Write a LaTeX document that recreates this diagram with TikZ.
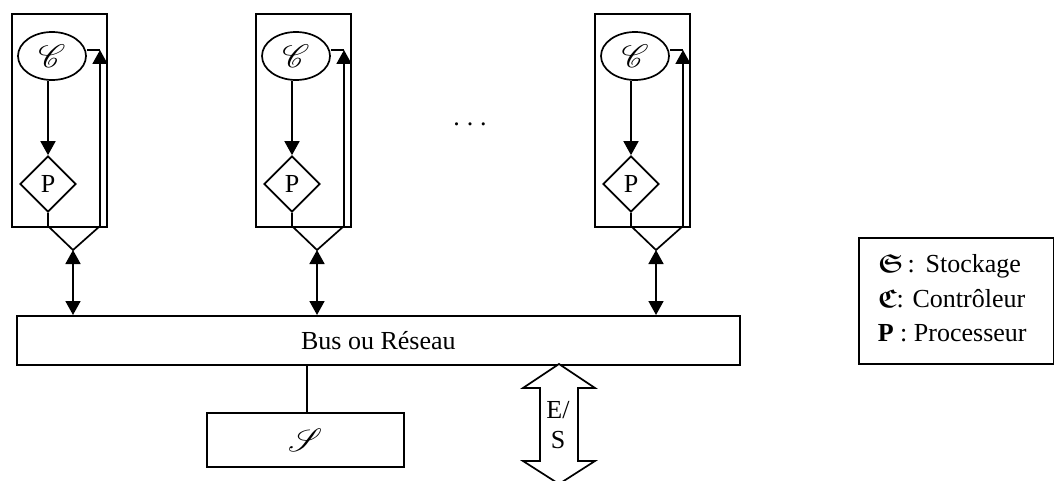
\documentclass[tikz,border=0pt]{standalone}
\usepackage{amsmath}
\usepackage{amssymb}
\usepackage{mathrsfs}
\usepackage{fontspec}
\setmainfont{Liberation Serif}
\usetikzlibrary{arrows.meta,shapes.geometric,calc}
\newcommand{\scrsym}[1]{\scalebox{1.3}{$\mathscr{#1}$}}
\begin{document}
\begin{tikzpicture}[x=1pt,y=-1pt,line width=1.7pt,
  every node/.style={font=\fontsize{26}{30}\selectfont},
  tip/.style={-{Triangle[width=15pt,length=14pt]}},
  dtip/.style={{Triangle[width=15pt,length=14pt]}-{Triangle[width=15pt,length=14pt]}},
  boxnode/.style={draw,anchor=north west,inner sep=0pt},
  ctrl/.style={draw,ellipse,minimum width=68pt,minimum height=48pt,inner sep=0pt},
  proc/.style={draw,diamond,minimum width=56pt,minimum height=56pt,inner sep=0pt}]
\useasboundingbox (0,0) rectangle (1054,481);

\node[boxnode,minimum width=723pt,minimum height=49pt] (bus) at (16,315) {Bus ou Réseau};

\foreach \L/\n in {11/a,255/b,594/c}{
  \node[boxnode,minimum width=95pt,minimum height=213pt] (box\n) at (\L,13) {};
  \node[ctrl] (E\n) at (\L+41,56) {\scrsym{C}};
  \node[proc] (P\n) at (\L+37,184) {P};
  \coordinate (Vl\n) at (\L+37,226);
  \coordinate (V\n) at (\L+62,250);
  \coordinate (Vr\n) at (\L+89,226);
  \coordinate (T\n) at (\L+89,50);
  \draw[tip] (P\n.north |- E\n.south) -- (P\n.north);
  \draw (P\n.south) -- (Vl\n) -- (V\n) -- (Vr\n);
  \draw[tip] (Vr\n) -- (T\n);
  \draw (E\n.east |- T\n) -- (T\n);
  \draw[dtip] (V\n) -- (V\n |- bus.north);
}

\node (dots) [anchor=base] at (470,126) {.\kern7pt.\kern7pt.};

\node[boxnode,minimum width=197pt,minimum height=54pt] (S) at (206,412) {\scrsym{S}};
\coordinate (Sc) at (307,412);
\draw (Sc |- bus.south) -- (Sc);

\coordinate (ESt) at (559,364);
\draw[fill=white] (ESt) -- (595,388) -- (578,388) -- (578,461) -- (595,461)
  -- (559,484) -- (523,461) -- (540,461) -- (540,388) -- (523,388) -- cycle;
\node[align=center,inner sep=0pt] (ES) at (558,425) {E/\\S};

\node[boxnode,minimum width=195pt,minimum height=126pt] (legend) at (858,237) {};
\node[anchor=base west,inner sep=0pt] (l1) at (877,272) {$\boldsymbol{\mathfrak{S}}$\,:\ \,Stockage};
\node[anchor=base west,inner sep=0pt] (l2) at (877,307) {$\boldsymbol{\mathfrak{C}}$: Contrôleur};
\node[anchor=base west,inner sep=0pt] (l3) at (877,341) {\textbf{P} : Processeur};
\end{tikzpicture}
\end{document}
